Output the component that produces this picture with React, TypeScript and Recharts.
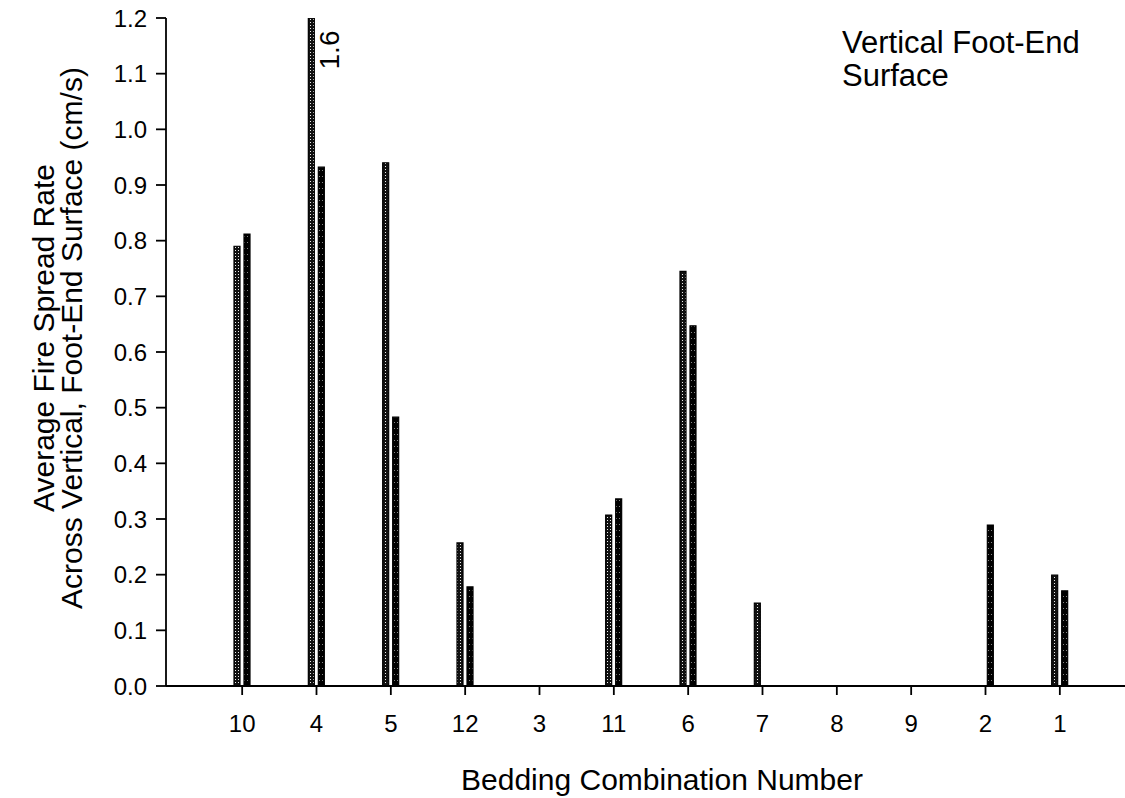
import { BarChart, Bar, XAxis, YAxis, Label, LabelList } from "recharts";

const categories = ["10", "4", "5", "12", "3", "11", "6", "7", "8", "9", "2", "1"];
const firstBars = [0.79, 1.6, 0.94, 0.257, 0, 0.307, 0.745, 0.149, 0, 0, 0, 0.199];
const secondBars = [0.812, 0.932, 0.483, 0.178, 0, 0.336, 0.647, 0, 0, 0, 0.289, 0.171];
const yTicks = [0, 0.1, 0.2, 0.3, 0.4, 0.5, 0.6, 0.7, 0.8, 0.9, 1.0, 1.1, 1.2];

const data = categories.map((cat, i) => ({ cat, first: firstBars[i], second: secondBars[i] }));

const font = "'Liberation Sans', Arial, sans-serif";
const yMax = 1.2;

// value above the axis top is written next to the clipped bar
const OverflowLabel = (props: any) => {
  const { x, width, value } = props;
  if (value == null || value <= yMax) return null;
  const tx = x + width + 25;
  const ty = 50;
  return (
    <text x={tx} y={ty} transform={`rotate(-90, ${tx}, ${ty})`} textAnchor="middle" fontSize={28} fontFamily={font} fill="#000">
      {value.toFixed(1)}
    </text>
  );
};

// axis title on the left plus the panel note in the upper right
const YTitle = () => (
  <g fontFamily={font} fill="#000">
    <text x={54} y={338} fontSize={30} transform="rotate(-90, 54, 338)" textAnchor="middle">Average Fire Spread Rate</text>
    <text x={82} y={338} fontSize={30} transform="rotate(-90, 82, 338)" textAnchor="middle">Across Vertical, Foot-End Surface (cm/s)</text>
    <text x={842} y={53} fontSize={31}>Vertical Foot-End</text>
    <text x={842} y={86} fontSize={31}>Surface</text>
  </g>
);

const XTitle = () => (
  <text x={662} y={790} textAnchor="middle" fontFamily={font} fontSize={30} fill="#000">
    Bedding Combination Number
  </text>
);

export default function App() {
  return (
    <div style={{ position: "absolute", left: 0, top: 0, width: 1125, height: 798, background: "#fff", overflow: "hidden" }}>
      <svg width={0} height={0} style={{ position: "absolute" }}>
        <defs>
          <pattern id="dotLight" patternUnits="userSpaceOnUse" width={3} height={3}>
            <rect width={3} height={3} fill="#111" />
            <rect x={1} y={1} width={1} height={1} fill="#eee" />
          </pattern>
          <pattern id="dotDark" patternUnits="userSpaceOnUse" width={3} height={6}>
            <rect width={3} height={6} fill="#000" />
            <rect x={1} y={2} width={1} height={1} fill="#888" />
          </pattern>
        </defs>
      </svg>
      <BarChart width={1125} height={798} data={data} margin={{ top: 18, right: 0, bottom: 0, left: 0 }} barSize={6} barGap={4}>
        <XAxis
          dataKey="cat"
          height={112}
          padding={{ left: 39, right: 28 }}
          tickSize={9}
          tickMargin={20}
          stroke="#000"
          strokeWidth={1.8}
          tick={{ fill: "#000", fontSize: 24, fontFamily: font }}
        >
          <Label content={() => <XTitle />} />
        </XAxis>
        <XAxis xAxisId="top" dataKey="cat" orientation="top" height={0} tick={false} tickLine={false} stroke="#000" strokeWidth={1.5} />
        <YAxis
          width={166}
          domain={[0, yMax]}
          ticks={yTicks}
          allowDataOverflow
          interval={0}
          tickSize={10}
          tickMargin={9}
          stroke="#000"
          strokeWidth={1.8}
          tickFormatter={(v: number) => v.toFixed(1)}
          tick={{ fill: "#000", fontSize: 24, fontFamily: font }}
        >
          <Label content={() => <YTitle />} />
        </YAxis>
        <YAxis
          yAxisId="right"
          orientation="right"
          width={2}
          mirror
          domain={[0, yMax]}
          ticks={yTicks}
          interval={0}
          axisLine={false}
          tickSize={5}
          tickFormatter={() => ""}
          tickLine={{ stroke: "#000", strokeWidth: 1.5 }}
        />
        <Bar dataKey="first" fill="url(#dotLight)" stroke="#000" strokeWidth={1.2} isAnimationActive={false}>
          <LabelList dataKey="first" content={OverflowLabel} />
        </Bar>
        <Bar dataKey="second" fill="url(#dotDark)" stroke="#000" strokeWidth={1.2} isAnimationActive={false} />
      </BarChart>
    </div>
  );
}
